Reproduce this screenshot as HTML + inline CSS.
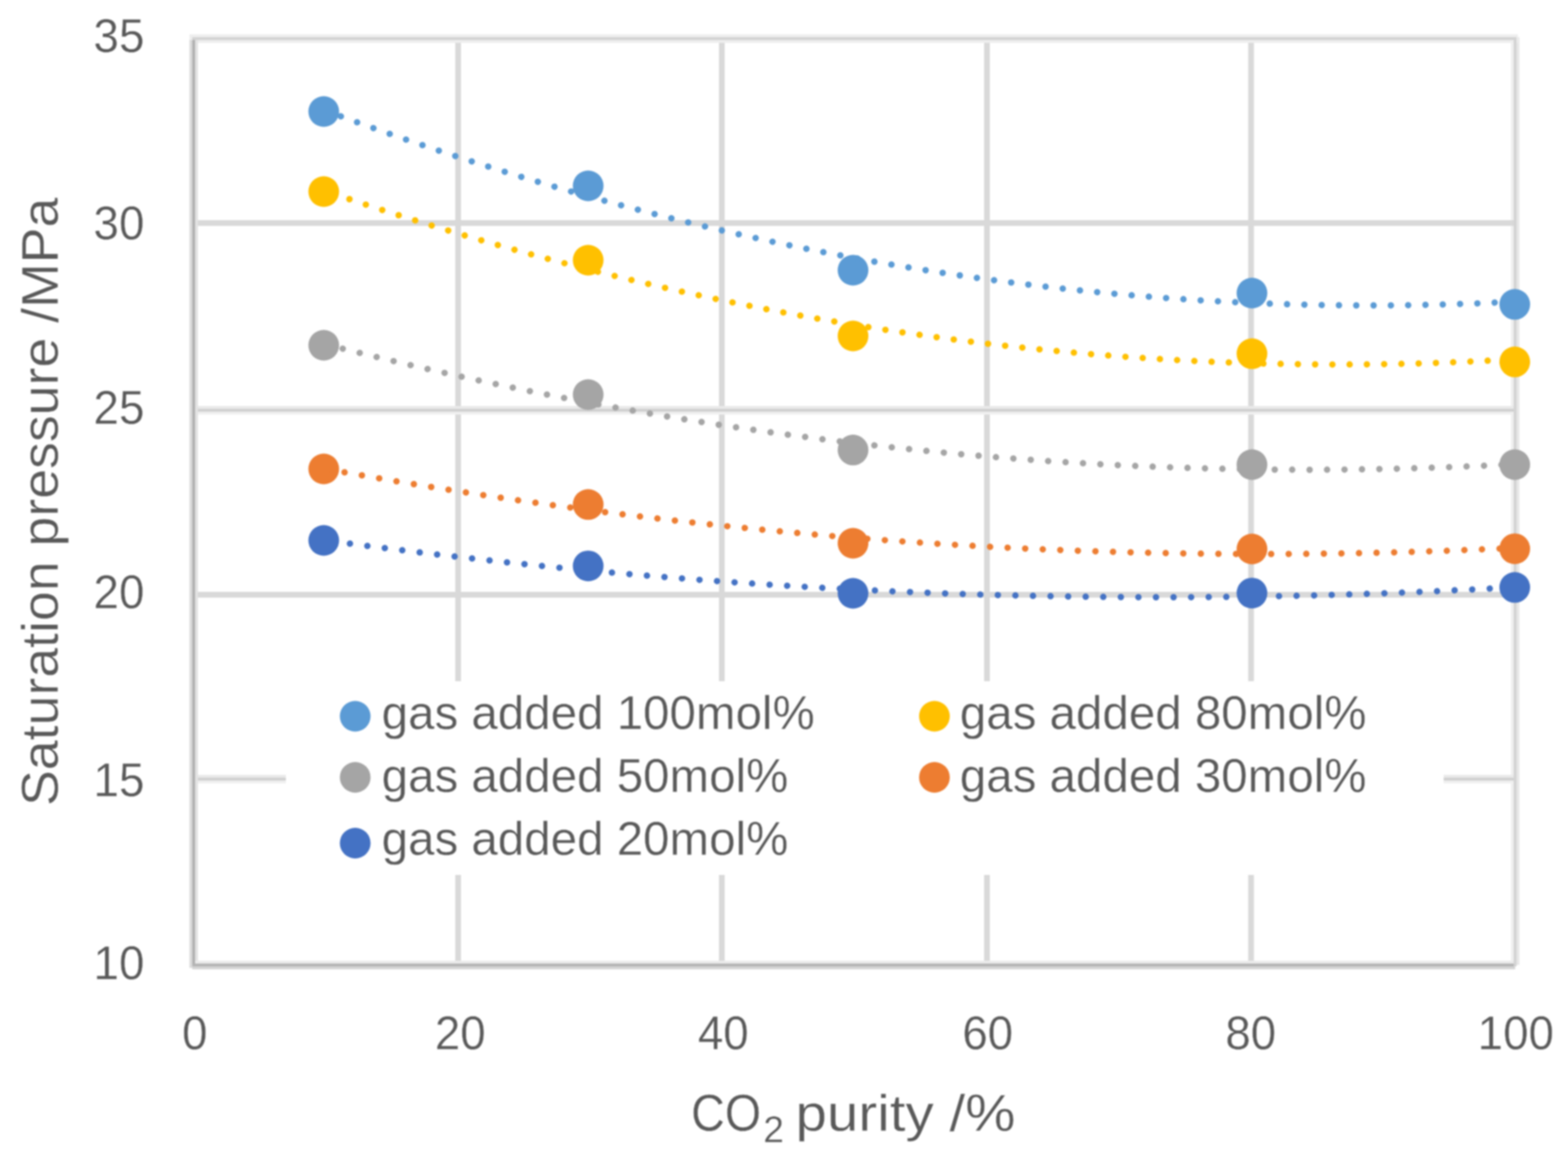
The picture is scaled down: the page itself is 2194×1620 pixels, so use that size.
<!DOCTYPE html>
<html><head><meta charset="utf-8"><title>Saturation pressure vs CO2 purity</title>
<style>html,body{margin:0;padding:0;background:#fff;width:2194px;height:1620px;overflow:hidden}svg{display:block;filter:blur(1px)}</style>
</head><body>
<svg width="2194" height="1620" viewBox="0 0 2194 1620">
<style>text{stroke:#fff;stroke-width:0.4px;paint-order:normal}</style>
<rect width="2194" height="1620" fill="#fff"/>
<rect x="2114" y="52" width="4" height="1298" fill="#f0f0f0"/>
<rect x="2122" y="52" width="4" height="1298" fill="#e8e8e8"/>
<rect x="637" y="50" width="8" height="1300" fill="#d9d9d9"/>
<rect x="1006" y="50" width="8" height="1300" fill="#d9d9d9"/>
<rect x="1377" y="50" width="8" height="1300" fill="#d9d9d9"/>
<rect x="1746.5" y="50" width="8" height="1300" fill="#d9d9d9"/>
<rect x="271" y="308" width="1849" height="8" fill="#d9d9d9"/>
<rect x="271" y="828" width="1849" height="8" fill="#d9d9d9"/>
<rect x="271" y="568" width="1849" height="4" fill="#e9e9e9"/>
<rect x="271" y="576" width="1849" height="4" fill="#f0f0f0"/>
<rect x="271" y="572" width="1849" height="4" fill="#d0d0d0"/>
<rect x="271" y="1084" width="1849" height="4" fill="#e9e9e9"/>
<rect x="271" y="1092" width="1849" height="4" fill="#f0f0f0"/>
<rect x="271" y="1088" width="1849" height="4" fill="#d0d0d0"/>
<rect x="265" y="48" width="1859" height="12" fill="#eeeeee"/>
<rect x="269" y="52" width="1853" height="4" fill="#d3d3d3"/>
<rect x="2118" y="52" width="4" height="1300" fill="#d3d3d3"/>
<rect x="265" y="56" width="4" height="1298" fill="#dcdcdc"/>
<rect x="273" y="56" width="4" height="1292" fill="#e3e3e3"/>
<rect x="269" y="56" width="4" height="1296" fill="#b2b2b2"/>
<rect x="273" y="1344" width="1845" height="4" fill="#ebebeb"/>
<rect x="269" y="1352" width="1851" height="4" fill="#d5d5d5"/>
<rect x="269" y="1348" width="1849" height="4" fill="#b4b4b4"/>
<rect x="400" y="953" width="1620" height="271" fill="#fff"/>
<circle cx="453.0" cy="156" r="21.5" fill="#5B9BD5"/>
<circle cx="823.0" cy="260" r="21.5" fill="#5B9BD5"/>
<circle cx="1193.6" cy="378" r="21.5" fill="#5B9BD5"/>
<circle cx="1751.8" cy="410" r="21.5" fill="#5B9BD5"/>
<circle cx="2119.5" cy="425.8" r="21.5" fill="#5B9BD5"/>
<circle cx="453.0" cy="268" r="21.5" fill="#FFC000"/>
<circle cx="823.0" cy="364" r="21.5" fill="#FFC000"/>
<circle cx="1193.6" cy="470" r="21.5" fill="#FFC000"/>
<circle cx="1751.8" cy="494.8" r="21.5" fill="#FFC000"/>
<circle cx="2119.5" cy="506.3" r="21.5" fill="#FFC000"/>
<circle cx="453.0" cy="483" r="21.5" fill="#A5A5A5"/>
<circle cx="823.0" cy="552" r="21.5" fill="#A5A5A5"/>
<circle cx="1193.6" cy="629.6" r="21.5" fill="#A5A5A5"/>
<circle cx="1751.8" cy="650" r="21.5" fill="#A5A5A5"/>
<circle cx="2119.5" cy="650" r="21.5" fill="#A5A5A5"/>
<circle cx="453.0" cy="656" r="21.5" fill="#ED7D31"/>
<circle cx="823.0" cy="705.8" r="21.5" fill="#ED7D31"/>
<circle cx="1193.6" cy="760" r="21.5" fill="#ED7D31"/>
<circle cx="1751.8" cy="768" r="21.5" fill="#ED7D31"/>
<circle cx="2119.5" cy="767.7" r="21.5" fill="#ED7D31"/>
<circle cx="453.0" cy="756" r="21.5" fill="#4472C4"/>
<circle cx="823.0" cy="791.7" r="21.5" fill="#4472C4"/>
<circle cx="1193.6" cy="830" r="21.5" fill="#4472C4"/>
<circle cx="1751.8" cy="829.7" r="21.5" fill="#4472C4"/>
<circle cx="2119.5" cy="821.8" r="21.5" fill="#4472C4"/>
<polyline points="453.0,153.8 461.4,156.9 469.7,160.1 478.1,163.1 486.5,166.2 494.9,169.3 503.2,172.3 511.6,175.3 520.0,178.3 528.4,181.3 536.7,184.2 545.1,187.2 553.5,190.1 561.9,193.0 570.2,195.9 578.6,198.8 587.0,201.6 595.4,204.4 603.7,207.3 612.1,210.1 620.5,212.8 628.9,215.6 637.2,218.3 645.6,221.1 654.0,223.8 662.4,226.5 670.7,229.1 679.1,231.8 687.5,234.4 695.9,237.1 704.2,239.7 712.6,242.2 721.0,244.8 729.4,247.4 737.7,249.9 746.1,252.4 754.5,254.9 762.9,257.4 771.2,259.8 779.6,262.3 788.0,264.7 796.3,267.1 804.7,269.5 813.1,271.8 821.5,274.2 829.8,276.5 838.2,278.8 846.6,281.1 855.0,283.4 863.3,285.7 871.7,287.9 880.1,290.1 888.5,292.3 896.8,294.5 905.2,296.7 913.6,298.9 922.0,301.0 930.3,303.1 938.7,305.2 947.1,307.3 955.5,309.4 963.8,311.4 972.2,313.4 980.6,315.4 989.0,317.4 997.3,319.4 1005.7,321.4 1014.1,323.3 1022.5,325.2 1030.8,327.1 1039.2,329.0 1047.6,330.9 1056.0,332.7 1064.3,334.6 1072.7,336.4 1081.1,338.2 1089.5,339.9 1097.8,341.7 1106.2,343.5 1114.6,345.2 1122.9,346.9 1131.3,348.6 1139.7,350.2 1148.1,351.9 1156.4,353.5 1164.8,355.1 1173.2,356.7 1181.6,358.3 1189.9,359.9 1198.3,361.4 1206.7,363.0 1215.1,364.5 1223.4,366.0 1231.8,367.4 1240.2,368.9 1248.6,370.3 1256.9,371.7 1265.3,373.1 1273.7,374.5 1282.1,375.9 1290.4,377.2 1298.8,378.6 1307.2,379.9 1315.6,381.2 1323.9,382.4 1332.3,383.7 1340.7,384.9 1349.1,386.2 1357.4,387.4 1365.8,388.6 1374.2,389.7 1382.6,390.9 1390.9,392.0 1399.3,393.1 1407.7,394.2 1416.1,395.3 1424.4,396.4 1432.8,397.4 1441.2,398.4 1449.6,399.4 1457.9,400.4 1466.3,401.4 1474.7,402.3 1483.0,403.3 1491.4,404.2 1499.8,405.1 1508.2,406.0 1516.5,406.8 1524.9,407.7 1533.3,408.5 1541.7,409.3 1550.0,410.1 1558.4,410.9 1566.8,411.7 1575.2,412.4 1583.5,413.1 1591.9,413.8 1600.3,414.5 1608.7,415.2 1617.0,415.8 1625.4,416.5 1633.8,417.1 1642.2,417.7 1650.5,418.2 1658.9,418.8 1667.3,419.3 1675.7,419.9 1684.0,420.4 1692.4,420.9 1700.8,421.3 1709.2,421.8 1717.5,422.2 1725.9,422.6 1734.3,423.0 1742.7,423.4 1751.0,423.8 1759.4,424.1 1767.8,424.4 1776.2,424.8 1784.5,425.0 1792.9,425.3 1801.3,425.6 1809.6,425.8 1818.0,426.0 1826.4,426.2 1834.8,426.4 1843.1,426.6 1851.5,426.7 1859.9,426.9 1868.3,427.0 1876.6,427.1 1885.0,427.1 1893.4,427.2 1901.8,427.2 1910.1,427.3 1918.5,427.3 1926.9,427.2 1935.3,427.2 1943.6,427.2 1952.0,427.1 1960.4,427.0 1968.8,426.9 1977.1,426.8 1985.5,426.7 1993.9,426.5 2002.3,426.3 2010.6,426.1 2019.0,425.9 2027.4,425.7 2035.8,425.4 2044.1,425.2 2052.5,424.9 2060.9,424.6 2069.3,424.3 2077.6,423.9 2086.0,423.6 2094.4,423.2 2102.8,422.8 2111.1,422.4 2119.5,422.0" fill="none" stroke="#5B9BD5" stroke-width="9" stroke-linecap="round" stroke-dasharray="0.01 24.20" stroke-dashoffset="22.87"/>
<polyline points="453.0,266.5 461.4,269.3 469.7,272.2 478.1,275.0 486.5,277.8 494.9,280.6 503.2,283.4 511.6,286.1 520.0,288.9 528.4,291.6 536.7,294.3 545.1,297.0 553.5,299.7 561.9,302.4 570.2,305.0 578.6,307.6 587.0,310.2 595.4,312.8 603.7,315.4 612.1,318.0 620.5,320.5 628.9,323.0 637.2,325.5 645.6,328.0 654.0,330.5 662.4,332.9 670.7,335.4 679.1,337.8 687.5,340.2 695.9,342.6 704.2,345.0 712.6,347.3 721.0,349.7 729.4,352.0 737.7,354.3 746.1,356.6 754.5,358.9 762.9,361.1 771.2,363.3 779.6,365.6 788.0,367.8 796.3,369.9 804.7,372.1 813.1,374.3 821.5,376.4 829.8,378.5 838.2,380.6 846.6,382.7 855.0,384.8 863.3,386.8 871.7,388.9 880.1,390.9 888.5,392.9 896.8,394.9 905.2,396.8 913.6,398.8 922.0,400.7 930.3,402.6 938.7,404.5 947.1,406.4 955.5,408.3 963.8,410.1 972.2,411.9 980.6,413.7 989.0,415.5 997.3,417.3 1005.7,419.1 1014.1,420.8 1022.5,422.6 1030.8,424.3 1039.2,426.0 1047.6,427.6 1056.0,429.3 1064.3,430.9 1072.7,432.6 1081.1,434.2 1089.5,435.8 1097.8,437.4 1106.2,438.9 1114.6,440.5 1122.9,442.0 1131.3,443.5 1139.7,445.0 1148.1,446.5 1156.4,447.9 1164.8,449.3 1173.2,450.8 1181.6,452.2 1189.9,453.6 1198.3,454.9 1206.7,456.3 1215.1,457.6 1223.4,459.0 1231.8,460.3 1240.2,461.6 1248.6,462.8 1256.9,464.1 1265.3,465.3 1273.7,466.5 1282.1,467.7 1290.4,468.9 1298.8,470.1 1307.2,471.2 1315.6,472.4 1323.9,473.5 1332.3,474.6 1340.7,475.7 1349.1,476.8 1357.4,477.8 1365.8,478.8 1374.2,479.9 1382.6,480.9 1390.9,481.8 1399.3,482.8 1407.7,483.8 1416.1,484.7 1424.4,485.6 1432.8,486.5 1441.2,487.4 1449.6,488.2 1457.9,489.1 1466.3,489.9 1474.7,490.7 1483.0,491.5 1491.4,492.3 1499.8,493.1 1508.2,493.8 1516.5,494.6 1524.9,495.3 1533.3,496.0 1541.7,496.6 1550.0,497.3 1558.4,497.9 1566.8,498.6 1575.2,499.2 1583.5,499.8 1591.9,500.4 1600.3,500.9 1608.7,501.5 1617.0,502.0 1625.4,502.5 1633.8,503.0 1642.2,503.5 1650.5,503.9 1658.9,504.4 1667.3,504.8 1675.7,505.2 1684.0,505.6 1692.4,506.0 1700.8,506.3 1709.2,506.7 1717.5,507.0 1725.9,507.3 1734.3,507.6 1742.7,507.8 1751.0,508.1 1759.4,508.3 1767.8,508.6 1776.2,508.8 1784.5,508.9 1792.9,509.1 1801.3,509.3 1809.6,509.4 1818.0,509.5 1826.4,509.6 1834.8,509.7 1843.1,509.8 1851.5,509.8 1859.9,509.9 1868.3,509.9 1876.6,509.9 1885.0,509.9 1893.4,509.8 1901.8,509.8 1910.1,509.7 1918.5,509.6 1926.9,509.5 1935.3,509.4 1943.6,509.3 1952.0,509.1 1960.4,509.0 1968.8,508.8 1977.1,508.6 1985.5,508.4 1993.9,508.1 2002.3,507.9 2010.6,507.6 2019.0,507.3 2027.4,507.0 2035.8,506.7 2044.1,506.4 2052.5,506.0 2060.9,505.6 2069.3,505.2 2077.6,504.8 2086.0,504.4 2094.4,504.0 2102.8,503.5 2111.1,503.0 2119.5,502.6" fill="none" stroke="#FFC000" stroke-width="9" stroke-linecap="round" stroke-dasharray="0.01 24.14" stroke-dashoffset="10.33"/>
<polyline points="453.0,481.0 461.4,483.2 469.7,485.3 478.1,487.4 486.5,489.5 494.9,491.6 503.2,493.7 511.6,495.7 520.0,497.8 528.4,499.8 536.7,501.8 545.1,503.8 553.5,505.8 561.9,507.8 570.2,509.8 578.6,511.7 587.0,513.7 595.4,515.6 603.7,517.5 612.1,519.4 620.5,521.3 628.9,523.2 637.2,525.1 645.6,526.9 654.0,528.7 662.4,530.6 670.7,532.4 679.1,534.2 687.5,536.0 695.9,537.7 704.2,539.5 712.6,541.2 721.0,543.0 729.4,544.7 737.7,546.4 746.1,548.1 754.5,549.8 762.9,551.5 771.2,553.1 779.6,554.8 788.0,556.4 796.3,558.0 804.7,559.6 813.1,561.2 821.5,562.8 829.8,564.3 838.2,565.9 846.6,567.4 855.0,568.9 863.3,570.5 871.7,572.0 880.1,573.4 888.5,574.9 896.8,576.4 905.2,577.8 913.6,579.3 922.0,580.7 930.3,582.1 938.7,583.5 947.1,584.9 955.5,586.2 963.8,587.6 972.2,588.9 980.6,590.2 989.0,591.6 997.3,592.9 1005.7,594.2 1014.1,595.4 1022.5,596.7 1030.8,597.9 1039.2,599.2 1047.6,600.4 1056.0,601.6 1064.3,602.8 1072.7,604.0 1081.1,605.2 1089.5,606.3 1097.8,607.5 1106.2,608.6 1114.6,609.7 1122.9,610.8 1131.3,611.9 1139.7,613.0 1148.1,614.1 1156.4,615.1 1164.8,616.2 1173.2,617.2 1181.6,618.2 1189.9,619.2 1198.3,620.2 1206.7,621.2 1215.1,622.1 1223.4,623.1 1231.8,624.0 1240.2,625.0 1248.6,625.9 1256.9,626.8 1265.3,627.7 1273.7,628.5 1282.1,629.4 1290.4,630.2 1298.8,631.1 1307.2,631.9 1315.6,632.7 1323.9,633.5 1332.3,634.3 1340.7,635.0 1349.1,635.8 1357.4,636.5 1365.8,637.2 1374.2,638.0 1382.6,638.7 1390.9,639.4 1399.3,640.0 1407.7,640.7 1416.1,641.3 1424.4,642.0 1432.8,642.6 1441.2,643.2 1449.6,643.8 1457.9,644.4 1466.3,645.0 1474.7,645.5 1483.0,646.1 1491.4,646.6 1499.8,647.1 1508.2,647.6 1516.5,648.1 1524.9,648.6 1533.3,649.1 1541.7,649.5 1550.0,650.0 1558.4,650.4 1566.8,650.8 1575.2,651.2 1583.5,651.6 1591.9,652.0 1600.3,652.3 1608.7,652.7 1617.0,653.0 1625.4,653.3 1633.8,653.6 1642.2,653.9 1650.5,654.2 1658.9,654.5 1667.3,654.7 1675.7,655.0 1684.0,655.2 1692.4,655.4 1700.8,655.6 1709.2,655.8 1717.5,656.0 1725.9,656.2 1734.3,656.3 1742.7,656.5 1751.0,656.6 1759.4,656.7 1767.8,656.8 1776.2,656.9 1784.5,657.0 1792.9,657.0 1801.3,657.1 1809.6,657.1 1818.0,657.2 1826.4,657.2 1834.8,657.2 1843.1,657.1 1851.5,657.1 1859.9,657.1 1868.3,657.0 1876.6,656.9 1885.0,656.9 1893.4,656.8 1901.8,656.7 1910.1,656.5 1918.5,656.4 1926.9,656.3 1935.3,656.1 1943.6,655.9 1952.0,655.7 1960.4,655.5 1968.8,655.3 1977.1,655.1 1985.5,654.9 1993.9,654.6 2002.3,654.3 2010.6,654.1 2019.0,653.8 2027.4,653.5 2035.8,653.1 2044.1,652.8 2052.5,652.5 2060.9,652.1 2069.3,651.7 2077.6,651.4 2086.0,651.0 2094.4,650.6 2102.8,650.1 2111.1,649.7 2119.5,649.3" fill="none" stroke="#A5A5A5" stroke-width="9" stroke-linecap="round" stroke-dasharray="0.01 24.40" stroke-dashoffset="21.39"/>
<polyline points="453.0,655.5 461.4,657.0 469.7,658.5 478.1,660.0 486.5,661.5 494.9,663.0 503.2,664.4 511.6,665.9 520.0,667.3 528.4,668.8 536.7,670.2 545.1,671.6 553.5,673.1 561.9,674.5 570.2,675.8 578.6,677.2 587.0,678.6 595.4,680.0 603.7,681.3 612.1,682.7 620.5,684.0 628.9,685.3 637.2,686.6 645.6,687.9 654.0,689.2 662.4,690.5 670.7,691.8 679.1,693.1 687.5,694.3 695.9,695.6 704.2,696.8 712.6,698.0 721.0,699.3 729.4,700.5 737.7,701.7 746.1,702.8 754.5,704.0 762.9,705.2 771.2,706.4 779.6,707.5 788.0,708.6 796.3,709.8 804.7,710.9 813.1,712.0 821.5,713.1 829.8,714.2 838.2,715.3 846.6,716.4 855.0,717.4 863.3,718.5 871.7,719.5 880.1,720.5 888.5,721.6 896.8,722.6 905.2,723.6 913.6,724.6 922.0,725.6 930.3,726.5 938.7,727.5 947.1,728.5 955.5,729.4 963.8,730.3 972.2,731.3 980.6,732.2 989.0,733.1 997.3,734.0 1005.7,734.9 1014.1,735.8 1022.5,736.6 1030.8,737.5 1039.2,738.3 1047.6,739.2 1056.0,740.0 1064.3,740.8 1072.7,741.6 1081.1,742.4 1089.5,743.2 1097.8,744.0 1106.2,744.8 1114.6,745.5 1122.9,746.3 1131.3,747.0 1139.7,747.8 1148.1,748.5 1156.4,749.2 1164.8,749.9 1173.2,750.6 1181.6,751.3 1189.9,752.0 1198.3,752.6 1206.7,753.3 1215.1,753.9 1223.4,754.6 1231.8,755.2 1240.2,755.8 1248.6,756.4 1256.9,757.0 1265.3,757.6 1273.7,758.2 1282.1,758.7 1290.4,759.3 1298.8,759.8 1307.2,760.4 1315.6,760.9 1323.9,761.4 1332.3,761.9 1340.7,762.4 1349.1,762.9 1357.4,763.4 1365.8,763.9 1374.2,764.3 1382.6,764.8 1390.9,765.2 1399.3,765.7 1407.7,766.1 1416.1,766.5 1424.4,766.9 1432.8,767.3 1441.2,767.7 1449.6,768.0 1457.9,768.4 1466.3,768.8 1474.7,769.1 1483.0,769.4 1491.4,769.8 1499.8,770.1 1508.2,770.4 1516.5,770.7 1524.9,771.0 1533.3,771.2 1541.7,771.5 1550.0,771.8 1558.4,772.0 1566.8,772.3 1575.2,772.5 1583.5,772.7 1591.9,772.9 1600.3,773.1 1608.7,773.3 1617.0,773.5 1625.4,773.6 1633.8,773.8 1642.2,774.0 1650.5,774.1 1658.9,774.2 1667.3,774.3 1675.7,774.5 1684.0,774.6 1692.4,774.6 1700.8,774.7 1709.2,774.8 1717.5,774.9 1725.9,774.9 1734.3,775.0 1742.7,775.0 1751.0,775.0 1759.4,775.0 1767.8,775.0 1776.2,775.0 1784.5,775.0 1792.9,775.0 1801.3,775.0 1809.6,774.9 1818.0,774.9 1826.4,774.8 1834.8,774.7 1843.1,774.6 1851.5,774.5 1859.9,774.4 1868.3,774.3 1876.6,774.2 1885.0,774.1 1893.4,773.9 1901.8,773.8 1910.1,773.6 1918.5,773.5 1926.9,773.3 1935.3,773.1 1943.6,772.9 1952.0,772.7 1960.4,772.5 1968.8,772.2 1977.1,772.0 1985.5,771.7 1993.9,771.5 2002.3,771.2 2010.6,770.9 2019.0,770.7 2027.4,770.4 2035.8,770.0 2044.1,769.7 2052.5,769.4 2060.9,769.1 2069.3,768.7 2077.6,768.4 2086.0,768.0 2094.4,767.6 2102.8,767.2 2111.1,766.9 2119.5,766.5" fill="none" stroke="#ED7D31" stroke-width="9" stroke-linecap="round" stroke-dasharray="0.01 24.58" stroke-dashoffset="19.61"/>
<polyline points="453.0,755.6 461.4,756.7 469.7,757.8 478.1,759.0 486.5,760.1 494.9,761.2 503.2,762.3 511.6,763.4 520.0,764.4 528.4,765.5 536.7,766.6 545.1,767.6 553.5,768.7 561.9,769.7 570.2,770.7 578.6,771.8 587.0,772.8 595.4,773.8 603.7,774.8 612.1,775.8 620.5,776.7 628.9,777.7 637.2,778.7 645.6,779.6 654.0,780.6 662.4,781.5 670.7,782.5 679.1,783.4 687.5,784.3 695.9,785.2 704.2,786.1 712.6,787.0 721.0,787.9 729.4,788.8 737.7,789.6 746.1,790.5 754.5,791.3 762.9,792.2 771.2,793.0 779.6,793.8 788.0,794.7 796.3,795.5 804.7,796.3 813.1,797.1 821.5,797.9 829.8,798.6 838.2,799.4 846.6,800.2 855.0,800.9 863.3,801.7 871.7,802.4 880.1,803.1 888.5,803.9 896.8,804.6 905.2,805.3 913.6,806.0 922.0,806.7 930.3,807.3 938.7,808.0 947.1,808.7 955.5,809.3 963.8,810.0 972.2,810.6 980.6,811.3 989.0,811.9 997.3,812.5 1005.7,813.1 1014.1,813.7 1022.5,814.3 1030.8,814.9 1039.2,815.4 1047.6,816.0 1056.0,816.6 1064.3,817.1 1072.7,817.7 1081.1,818.2 1089.5,818.7 1097.8,819.2 1106.2,819.8 1114.6,820.3 1122.9,820.7 1131.3,821.2 1139.7,821.7 1148.1,822.2 1156.4,822.6 1164.8,823.1 1173.2,823.5 1181.6,824.0 1189.9,824.4 1198.3,824.8 1206.7,825.2 1215.1,825.6 1223.4,826.0 1231.8,826.4 1240.2,826.8 1248.6,827.2 1256.9,827.5 1265.3,827.9 1273.7,828.2 1282.1,828.6 1290.4,828.9 1298.8,829.2 1307.2,829.5 1315.6,829.9 1323.9,830.2 1332.3,830.4 1340.7,830.7 1349.1,831.0 1357.4,831.3 1365.8,831.5 1374.2,831.8 1382.6,832.0 1390.9,832.2 1399.3,832.5 1407.7,832.7 1416.1,832.9 1424.4,833.1 1432.8,833.3 1441.2,833.5 1449.6,833.7 1457.9,833.8 1466.3,834.0 1474.7,834.1 1483.0,834.3 1491.4,834.4 1499.8,834.5 1508.2,834.7 1516.5,834.8 1524.9,834.9 1533.3,835.0 1541.7,835.1 1550.0,835.1 1558.4,835.2 1566.8,835.3 1575.2,835.3 1583.5,835.4 1591.9,835.4 1600.3,835.4 1608.7,835.5 1617.0,835.5 1625.4,835.5 1633.8,835.5 1642.2,835.5 1650.5,835.5 1658.9,835.4 1667.3,835.4 1675.7,835.3 1684.0,835.3 1692.4,835.2 1700.8,835.2 1709.2,835.1 1717.5,835.0 1725.9,834.9 1734.3,834.8 1742.7,834.7 1751.0,834.6 1759.4,834.5 1767.8,834.3 1776.2,834.2 1784.5,834.1 1792.9,833.9 1801.3,833.7 1809.6,833.6 1818.0,833.4 1826.4,833.2 1834.8,833.0 1843.1,832.8 1851.5,832.6 1859.9,832.3 1868.3,832.1 1876.6,831.9 1885.0,831.6 1893.4,831.4 1901.8,831.1 1910.1,830.8 1918.5,830.6 1926.9,830.3 1935.3,830.0 1943.6,829.7 1952.0,829.4 1960.4,829.1 1968.8,828.7 1977.1,828.4 1985.5,828.0 1993.9,827.7 2002.3,827.3 2010.6,827.0 2019.0,826.6 2027.4,826.2 2035.8,825.8 2044.1,825.4 2052.5,825.0 2060.9,824.6 2069.3,824.2 2077.6,823.7 2086.0,823.3 2094.4,822.8 2102.8,822.4 2111.1,821.9 2119.5,821.4" fill="none" stroke="#4472C4" stroke-width="9" stroke-linecap="round" stroke-dasharray="0.01 24.58" stroke-dashoffset="12.20"/>
<text transform="translate(202,73) scale(1,1.045)" text-anchor="end" font-family='"Liberation Sans", Arial, sans-serif' font-size="64" fill="#595959">35</text>
<text transform="translate(202,335) scale(1,1.045)" text-anchor="end" font-family='"Liberation Sans", Arial, sans-serif' font-size="64" fill="#595959">30</text>
<text transform="translate(202,593) scale(1,1.045)" text-anchor="end" font-family='"Liberation Sans", Arial, sans-serif' font-size="64" fill="#595959">25</text>
<text transform="translate(202,851) scale(1,1.045)" text-anchor="end" font-family='"Liberation Sans", Arial, sans-serif' font-size="64" fill="#595959">20</text>
<text transform="translate(202,1114) scale(1,1.045)" text-anchor="end" font-family='"Liberation Sans", Arial, sans-serif' font-size="64" fill="#595959">15</text>
<text transform="translate(202,1370) scale(1,1.045)" text-anchor="end" font-family='"Liberation Sans", Arial, sans-serif' font-size="64" fill="#595959">10</text>
<text transform="translate(272.5,1468) scale(1,1.045)" text-anchor="middle" font-family='"Liberation Sans", Arial, sans-serif' font-size="64" fill="#595959">0</text>
<text transform="translate(644,1468) scale(1,1.045)" text-anchor="middle" font-family='"Liberation Sans", Arial, sans-serif' font-size="64" fill="#595959">20</text>
<text transform="translate(1012,1468) scale(1,1.045)" text-anchor="middle" font-family='"Liberation Sans", Arial, sans-serif' font-size="64" fill="#595959">40</text>
<text transform="translate(1382,1468) scale(1,1.045)" text-anchor="middle" font-family='"Liberation Sans", Arial, sans-serif' font-size="64" fill="#595959">60</text>
<text transform="translate(1750,1468) scale(1,1.045)" text-anchor="middle" font-family='"Liberation Sans", Arial, sans-serif' font-size="64" fill="#595959">80</text>
<text transform="translate(2121,1468) scale(1,1.045)" text-anchor="middle" font-family='"Liberation Sans", Arial, sans-serif' font-size="64" fill="#595959">100</text>
<circle cx="497" cy="1002" r="21.5" fill="#5B9BD5"/>
<text x="534" y="1019.5" font-family='"Liberation Sans", Arial, sans-serif' font-size="66" fill="#595959" textLength="606" lengthAdjust="spacingAndGlyphs">gas added 100mol%</text>
<circle cx="1307.5" cy="1002" r="21.5" fill="#FFC000"/>
<text x="1343" y="1019.5" font-family='"Liberation Sans", Arial, sans-serif' font-size="66" fill="#595959" textLength="569" lengthAdjust="spacingAndGlyphs">gas added 80mol%</text>
<circle cx="497" cy="1087.5" r="21.5" fill="#A5A5A5"/>
<text x="534" y="1107.5" font-family='"Liberation Sans", Arial, sans-serif' font-size="66" fill="#595959" textLength="569" lengthAdjust="spacingAndGlyphs">gas added 50mol%</text>
<circle cx="1307.5" cy="1087.5" r="21.5" fill="#ED7D31"/>
<text x="1343" y="1107.5" font-family='"Liberation Sans", Arial, sans-serif' font-size="66" fill="#595959" textLength="569" lengthAdjust="spacingAndGlyphs">gas added 30mol%</text>
<circle cx="497" cy="1179.5" r="21.5" fill="#4472C4"/>
<text x="534" y="1196" font-family='"Liberation Sans", Arial, sans-serif' font-size="66" fill="#595959" textLength="569" lengthAdjust="spacingAndGlyphs">gas added 20mol%</text>
<text x="967" y="1582" font-family='"Liberation Sans", Arial, sans-serif' font-size="72" fill="#595959" textLength="98" lengthAdjust="spacingAndGlyphs">CO</text>
<text x="1068" y="1598" font-family='"Liberation Sans", Arial, sans-serif' font-size="52" fill="#595959">2</text>
<text x="1113" y="1582" font-family='"Liberation Sans", Arial, sans-serif' font-size="72" fill="#595959" textLength="308" lengthAdjust="spacingAndGlyphs">purity /%</text>
<text transform="translate(80.5,1127.5) rotate(-90)" x="0" y="0" font-family='"Liberation Sans", Arial, sans-serif' font-size="72" fill="#595959" textLength="851" lengthAdjust="spacingAndGlyphs">Saturation pressure /MPa</text>
</svg>
</body></html>
